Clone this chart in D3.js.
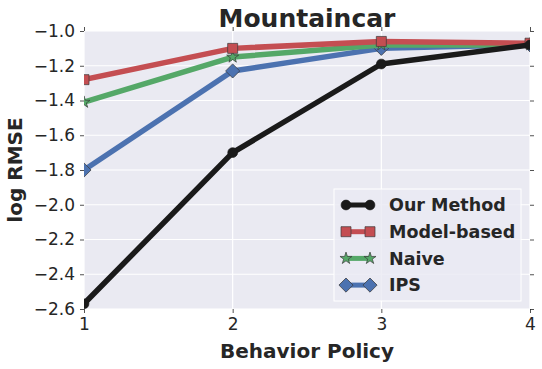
<!DOCTYPE html>
<html>
<head>
<meta charset="utf-8">
<script src="https://cdn.jsdelivr.net/npm/d3@7"></script>
<style>
  body { margin: 0; background: #fff; }
  text { font-family: "DejaVu Sans", sans-serif; fill: #262626; }
</style>
</head>
<body>
<svg id="chart" width="542" height="369"></svg>
<script>
// behavior policies and log RMSE per method
var policies = [1, 2, 3, 4];
var ourMethod = [-2.57, -1.70, -1.19, -1.08];
var modelBased = [-1.28, -1.10, -1.06, -1.07];
var naive = [-1.41, -1.15, -1.08, -1.08];
var ips = [-1.80, -1.23, -1.10, -1.08];
var yTicks = [-1.0, -1.2, -1.4, -1.6, -1.8, -2.0, -2.2, -2.4, -2.6];

var series = [
  {name: "Our Method", values: ourMethod, color: "#1a1a1a", marker: "circle"},
  {name: "Model-based", values: modelBased, color: "#C44E52", marker: "square"},
  {name: "Naive", values: naive, color: "#55A868", marker: "star"},
  {name: "IPS", values: ips, color: "#4C72B0", marker: "diamond"}
];

var svg = d3.select("#chart");
var pLeft = 84, pRight = 530, pTop = 31, pBottom = 309;

var x = d3.scaleLinear().domain([1, 4]).range([pLeft, pRight]);
var y = d3.scaleLinear().domain([-2.6, -1.0]).range([pBottom, pTop]);

// background
svg.append("rect")
  .attr("x", pLeft).attr("y", pTop)
  .attr("width", pRight - pLeft).attr("height", pBottom - pTop)
  .attr("fill", "#EAEAF2");

// grid
svg.append("g").selectAll("line").data(yTicks).join("line")
  .attr("x1", pLeft).attr("x2", pRight)
  .attr("y1", d => y(d)).attr("y2", d => y(d))
  .attr("stroke", "#fff").attr("stroke-width", 1.2);
svg.append("g").selectAll("line").data(policies).join("line")
  .attr("y1", pTop).attr("y2", pBottom)
  .attr("x1", d => x(d)).attr("x2", d => x(d))
  .attr("stroke", "#fff").attr("stroke-width", 1.2);

// axes, ticks on all four sides
var fmt = d => d3.format(".1f")(d).replace("-", "\u2212");
function styleAxis(g) {
  g.select(".domain").remove();
  g.selectAll(".tick line").attr("stroke", "#262626").attr("stroke-width", 0.8);
  g.selectAll(".tick text").style("font-size", "17px").attr("fill", "#262626");
}
svg.append("g").attr("transform", "translate(" + pLeft + ",0)")
  .call(d3.axisLeft(y).tickValues(yTicks).tickFormat(fmt).tickSize(4).tickPadding(5))
  .call(styleAxis);
svg.append("g").attr("transform", "translate(" + pRight + ",0)")
  .call(d3.axisRight(y).tickValues(yTicks).tickFormat("").tickSize(4))
  .call(styleAxis);
svg.append("g").attr("transform", "translate(0," + pBottom + ")")
  .call(d3.axisBottom(x).tickValues(policies).tickFormat(d3.format("d")).tickSize(4).tickPadding(5))
  .call(styleAxis);
svg.append("g").attr("transform", "translate(0," + pTop + ")")
  .call(d3.axisTop(x).tickValues(policies).tickFormat("").tickSize(4))
  .call(styleAxis);

// clip to plot area
svg.append("clipPath").attr("id", "clip").append("rect")
  .attr("x", pLeft).attr("y", pTop)
  .attr("width", pRight - pLeft).attr("height", pBottom - pTop);

var symbols = {
  circle: d3.symbol().type(d3.symbolCircle).size(75),
  square: d3.symbol().type(d3.symbolSquare).size(100),
  star: d3.symbol().type(d3.symbolStar).size(45),
  diamond: d3.symbol().type(d3.symbolSquare).size(100)
};
// matplotlib 'D' is a square turned by 45 degrees
var rot = m => m == "diamond" ? " rotate(45)" : "";

var line = d3.line().x((d, i) => x(policies[i])).y(d => y(d));
var plot = svg.append("g").attr("clip-path", "url(#clip)");

// draw in reverse so Our Method sits on top
series.slice().reverse().forEach(function(s) {
  plot.append("path").datum(s.values)
    .attr("d", line)
    .attr("fill", "none")
    .attr("stroke", s.color)
    .attr("stroke-width", 5.5)
    .attr("stroke-linejoin", "round");
  plot.append("g").selectAll("path").data(s.values).join("path")
    .attr("transform", (d, i) => "translate(" + x(policies[i]) + "," + y(d) + ")" + rot(s.marker))
    .attr("d", symbols[s.marker])
    .attr("fill", s.color)
    .attr("stroke", s.marker == "circle" ? s.color : "#3a3a3a")
    .attr("stroke-width", 0.7);
});

// legend
var lg = svg.append("g");
lg.append("rect")
  .attr("x", 334).attr("y", 189).attr("width", 187).attr("height", 112)
  .attr("fill", "#EAEAF2").attr("fill-opacity", 0.8)
  .attr("stroke", "#fff").attr("stroke-width", 1);
series.forEach(function(s, i) {
  var ly = 205 + i * 26.7;
  lg.append("line")
    .attr("x1", 346).attr("x2", 370).attr("y1", ly).attr("y2", ly)
    .attr("stroke", s.color).attr("stroke-width", 5);
  [346, 370].forEach(function(mx) {
    lg.append("path")
      .attr("transform", "translate(" + mx + "," + ly + ")" + rot(s.marker))
      .attr("d", symbols[s.marker])
      .attr("fill", s.color)
      .attr("stroke", s.marker == "circle" ? s.color : "#3a3a3a")
      .attr("stroke-width", 0.7);
  });
  lg.append("text")
    .attr("x", 389).attr("y", ly).attr("dy", "0.35em")
    .style("font-size", "17.5px").style("font-weight", "bold")
    .text(s.name);
});

// title and axis labels
svg.append("text")
  .attr("x", (pLeft + pRight) / 2).attr("y", 27)
  .attr("text-anchor", "middle")
  .style("font-size", "25px").style("font-weight", "bold")
  .text("Mountaincar");
svg.append("text")
  .attr("x", (pLeft + pRight) / 2).attr("y", 358)
  .attr("text-anchor", "middle")
  .style("font-size", "20px").style("font-weight", "bold")
  .text("Behavior Policy");
svg.append("text")
  .attr("transform", "translate(22," + ((pTop + pBottom) / 2) + ") rotate(-90)")
  .attr("text-anchor", "middle")
  .style("font-size", "20px").style("font-weight", "bold")
  .text("log RMSE");
</script>
</body>
</html>
